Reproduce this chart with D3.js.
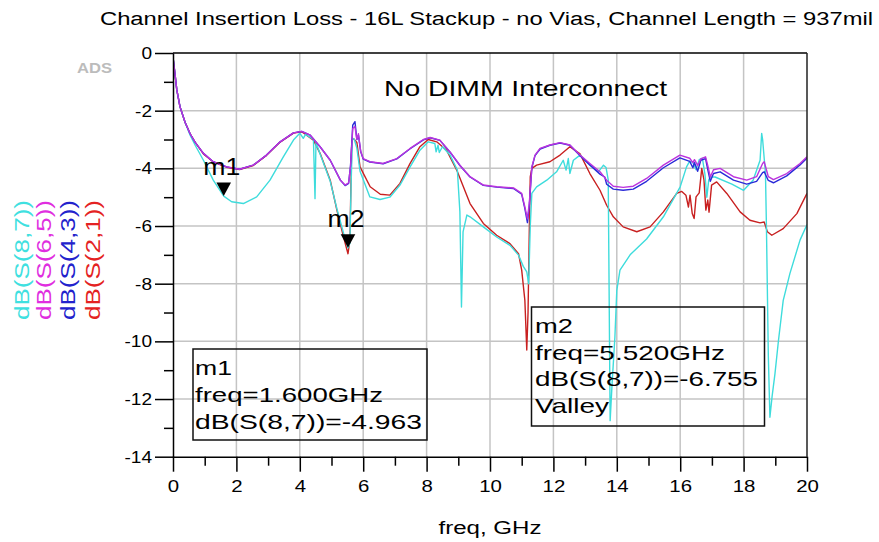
<!DOCTYPE html>
<html>
<head>
<meta charset="utf-8">
<script src="https://cdn.jsdelivr.net/npm/d3@7"></script>
<style>
  body { margin: 0; background: #fff; }
  text { font-family: "Liberation Sans", Arial, sans-serif; }
</style>
</head>
<body>
<script>
// freq (GHz), dB pairs
const s87 = [[0,0],[0.01,-0.24],[0.06,-0.7],[0.12,-1.28],[0.22,-1.86],[0.38,-2.4],[0.54,-2.85],[0.7,-3.2],[0.96,-3.72],[1.27,-4.41],[1.6,-4.963],[1.85,-5.16],[2.22,-5.22],[2.64,-4.99],[3.06,-4.41],[3.48,-3.6],[3.8,-3.02],[4.0,-2.78],[4.11,-2.96],[4.18,-2.82],[4.43,-3.0],[4.48,-5.05],[4.51,-3.1],[4.64,-3.5],[4.96,-4.45],[5.17,-5.4],[5.38,-6.25],[5.52,-6.755],[5.58,-6.6],[5.62,-4.5],[5.66,-2.95],[5.72,-3.0],[5.8,-3.3],[5.9,-4.1],[6.21,-4.99],[6.53,-5.08],[6.84,-5.0],[7.16,-4.58],[7.48,-3.95],[7.79,-3.37],[8.05,-3.08],[8.26,-3.14],[8.3,-3.43],[8.36,-3.2],[8.4,-3.45],[8.5,-3.25],[8.74,-3.54],[8.97,-4.06],[9.05,-5.5],[9.1,-8.81],[9.15,-6.2],[9.27,-5.62],[9.37,-5.68],[9.79,-6.03],[10.21,-6.38],[10.63,-6.67],[10.9,-7.01],[11.05,-7.4],[11.16,-7.59],[11.22,-8.0],[11.27,-6.0],[11.32,-4.87],[11.47,-4.64],[11.79,-4.41],[12.1,-4.12],[12.31,-3.72],[12.4,-4.06],[12.47,-3.66],[12.52,-4.18],[12.63,-3.72],[12.84,-3.54],[13.15,-3.89],[13.42,-4.12],[13.58,-3.89],[13.66,-3.97],[13.73,-4.41],[13.79,-12.75],[13.85,-11.5],[13.94,-9.85],[14.0,-8.23],[14.1,-7.53],[14.42,-7.0],[14.94,-6.45],[15.47,-5.68],[16.0,-4.64],[16.2,-3.95],[16.3,-3.75],[16.4,-3.8],[16.5,-4.05],[16.6,-3.7],[16.7,-3.65],[16.78,-4.2],[16.84,-5.0],[16.9,-4.4],[16.95,-4.3],[17.1,-4.3],[17.63,-4.55],[18.0,-4.76],[18.3,-4.41],[18.52,-3.72],[18.57,-2.79],[18.6,-3.0],[18.69,-4.18],[18.72,-6.0],[18.78,-10.5],[18.83,-12.63],[18.9,-11.9],[18.99,-11.12],[19.1,-9.97],[19.25,-8.58],[19.46,-7.65],[19.78,-6.49],[20,-5.95]];

const s65 = [[0,0],[0.01,-0.24],[0.06,-0.7],[0.12,-1.28],[0.22,-1.86],[0.38,-2.4],[0.54,-2.8],[0.7,-3.1],[0.96,-3.48],[1.27,-3.77],[1.69,-3.95],[2.1,-4.03],[2.53,-3.89],[2.95,-3.54],[3.38,-3.08],[3.8,-2.77],[4.06,-2.72],[4.33,-2.85],[4.64,-3.25],[4.96,-3.72],[5.28,-4.41],[5.43,-4.58],[5.54,-4.5],[5.6,-3.95],[5.67,-2.62],[5.74,-2.55],[5.8,-3.0],[5.85,-2.8],[5.92,-3.4],[6.0,-3.66],[6.21,-3.77],[6.63,-3.83],[7.06,-3.66],[7.48,-3.31],[7.9,-3.0],[8.11,-2.93],[8.42,-3.02],[8.74,-3.43],[9.05,-3.89],[9.37,-4.29],[9.79,-4.58],[10.21,-4.64],[10.74,-4.68],[11.0,-4.87],[11.1,-5.34],[11.18,-5.75],[11.24,-5.2],[11.32,-3.95],[11.42,-3.54],[11.58,-3.31],[11.89,-3.19],[12.21,-3.11],[12.52,-3.19],[12.84,-3.54],[13.15,-3.83],[13.47,-4.12],[13.68,-4.41],[13.89,-4.62],[14.2,-4.66],[14.52,-4.62],[14.94,-4.35],[15.47,-3.89],[15.99,-3.54],[16.3,-3.65],[16.4,-3.8],[16.45,-3.7],[16.55,-3.9],[16.65,-3.67],[16.8,-3.6],[16.88,-3.95],[16.95,-4.3],[17.05,-4.05],[17.26,-4.0],[17.68,-4.29],[18.1,-4.41],[18.41,-4.29],[18.6,-3.83],[18.65,-3.77],[18.78,-4.29],[18.94,-4.39],[19.36,-4.18],[19.78,-3.83],[20,-3.6]];

const s43 = [[0,0],[0.01,-0.24],[0.06,-0.7],[0.12,-1.28],[0.22,-1.86],[0.38,-2.4],[0.54,-2.8],[0.7,-3.1],[0.96,-3.48],[1.27,-3.77],[1.69,-3.95],[2.1,-4.03],[2.53,-3.89],[2.95,-3.54],[3.38,-3.08],[3.8,-2.77],[4.06,-2.72],[4.33,-2.85],[4.64,-3.25],[4.96,-3.72],[5.28,-4.41],[5.43,-4.6],[5.54,-4.52],[5.6,-3.9],[5.67,-2.5],[5.74,-2.38],[5.8,-3.0],[5.85,-2.85],[5.92,-3.42],[6.0,-3.68],[6.21,-3.78],[6.63,-3.84],[7.06,-3.67],[7.48,-3.32],[7.9,-3.01],[8.11,-2.94],[8.42,-3.03],[8.74,-3.44],[9.05,-3.9],[9.37,-4.3],[9.79,-4.59],[10.21,-4.65],[10.74,-4.7],[11.0,-4.9],[11.1,-5.4],[11.18,-5.88],[11.24,-5.3],[11.32,-3.98],[11.42,-3.56],[11.58,-3.33],[11.89,-3.2],[12.21,-3.12],[12.52,-3.2],[12.84,-3.56],[13.15,-3.88],[13.47,-4.2],[13.62,-4.3],[13.68,-4.55],[13.89,-4.72],[14.2,-4.76],[14.52,-4.72],[14.94,-4.45],[15.47,-3.98],[15.99,-3.64],[16.3,-3.76],[16.4,-3.98],[16.45,-3.8],[16.55,-4.1],[16.65,-3.72],[16.8,-3.66],[16.88,-4.1],[16.95,-4.45],[17.05,-4.18],[17.26,-4.12],[17.68,-4.41],[18.1,-4.55],[18.41,-4.45],[18.6,-4.15],[18.65,-4.12],[18.78,-4.42],[18.94,-4.5],[19.36,-4.26],[19.78,-3.88],[20,-3.64]];

const s21 = [[0,0],[0.01,-0.24],[0.06,-0.7],[0.12,-1.28],[0.22,-1.86],[0.38,-2.4],[0.54,-2.8],[0.7,-3.1],[0.96,-3.5],[1.27,-3.78],[1.69,-3.96],[2.1,-4.04],[2.53,-3.9],[2.95,-3.55],[3.38,-3.09],[3.8,-2.78],[4.06,-2.73],[4.43,-3.02],[4.64,-3.48],[4.96,-4.41],[5.17,-5.45],[5.38,-6.38],[5.52,-6.96],[5.58,-6.5],[5.64,-3.02],[5.7,-2.97],[5.8,-3.1],[5.9,-3.95],[6.22,-4.64],[6.54,-4.9],[6.84,-4.93],[7.16,-4.52],[7.48,-3.83],[7.79,-3.25],[8.05,-3.0],[8.32,-3.08],[8.63,-3.37],[8.95,-4.06],[9.37,-5.22],[9.79,-5.91],[10.21,-6.32],[10.63,-6.61],[10.9,-6.96],[11.0,-7.53],[11.1,-8.58],[11.16,-10.3],[11.2,-9.0],[11.24,-6.15],[11.27,-4.3],[11.32,-4.0],[11.47,-3.89],[11.89,-3.77],[12.21,-3.54],[12.52,-3.25],[12.84,-3.5],[13.15,-4.18],[13.47,-4.76],[13.68,-5.28],[13.89,-5.68],[14.2,-6.03],[14.63,-6.2],[15.05,-6.03],[15.47,-5.51],[15.89,-4.87],[16.05,-4.8],[16.18,-4.93],[16.26,-5.34],[16.31,-4.93],[16.38,-5.57],[16.44,-5.74],[16.5,-4.99],[16.6,-4.85],[16.68,-4.0],[16.75,-4.4],[16.81,-5.45],[16.87,-5.1],[16.91,-5.52],[16.99,-4.58],[17.15,-4.47],[17.47,-4.87],[17.89,-5.51],[18.2,-5.8],[18.52,-5.89],[18.65,-5.86],[18.75,-6.2],[18.89,-6.32],[19.25,-6.09],[19.68,-5.57],[20,-4.87]];

const seriesNames = ['dB(S(8,7))', 'dB(S(6,5))', 'dB(S(4,3))', 'dB(S(2,1))'];
const xTicks = [0, 2, 4, 6, 8, 10, 12, 14, 16, 18, 20];
const yTicks = [0, -2, -4, -6, -8, -10, -12, -14];
const markers = [
  {name: 'm1', freq: 1.6, val: -4.963, extra: null},
  {name: 'm2', freq: 5.52, val: -6.755, extra: 'Valley'}
];

const width = 879, height = 542;
const svg = d3.select('body').append('svg')
  .attr('width', width)
  .attr('height', height);

const x = d3.scaleLinear().domain([0, 20]).range([173, 807]);
const y = d3.scaleLinear().domain([-14, 0]).range([456.7, 53]);

const stretch = (sel, k) => sel.each(function () {
  const w = this.getComputedTextLength();
  d3.select(this).attr('textLength', w * k).attr('lengthAdjust', 'spacingAndGlyphs');
});

// 网格
svg.append('g')
  .selectAll('line')
  .data(xTicks.slice(1, -1))
  .join('line')
  .attr('x1', d => x(d)).attr('x2', d => x(d))
  .attr('y1', y(0)).attr('y2', y(-14))
  .attr('stroke', '#c4c4c4').attr('stroke-width', 1.5);

svg.append('g')
  .selectAll('line')
  .data(yTicks.slice(1, -1))
  .join('line')
  .attr('x1', x(0)).attr('x2', x(20))
  .attr('y1', d => y(d)).attr('y2', d => y(d))
  .attr('stroke', '#c4c4c4').attr('stroke-width', 1.5);

// 曲线
const line = d3.line().x(d => x(d[0])).y(d => y(d[1]));
svg.append('clipPath').attr('id', 'clip')
  .append('rect').attr('x', x(0)).attr('y', y(0) - 2)
  .attr('width', x(20) - x(0)).attr('height', y(-14) - y(0) + 2);

const curves = [
  {data: s21, color: '#c82020'},
  {data: s87, color: '#3edcdc'},
  {data: s43, color: '#2a2ad8'},
  {data: s65, color: '#bb33dd'}
];
svg.append('g').attr('clip-path', 'url(#clip)')
  .selectAll('path')
  .data(curves)
  .join('path')
  .attr('d', d => line(d.data))
  .attr('fill', 'none')
  .attr('stroke', d => d.color)
  .attr('stroke-width', 1.4)
  .attr('stroke-linejoin', 'round');

// 边框
svg.append('line')
  .attr('x1', x(0)).attr('x2', x(20)).attr('y1', y(0)).attr('y2', y(0))
  .attr('stroke', '#000').attr('stroke-width', 1.5);
svg.append('line')
  .attr('x1', x(20)).attr('x2', x(20)).attr('y1', y(0)).attr('y2', y(-14))
  .attr('stroke', '#222').attr('stroke-width', 1.5);

// 坐标轴
const yAxis = svg.append('g')
  .attr('transform', `translate(${x(0)},0)`)
  .call(d3.axisLeft(y).tickValues(yTicks).tickSize(18).tickSizeOuter(0).tickPadding(3)
          .tickFormat(d => String(d)))
  .attr('font-size', 17).attr('font-family', '"Liberation Sans", Arial, sans-serif');
yAxis.selectAll('line, path').attr('stroke', '#000').attr('stroke-width', 1.5);
stretch(yAxis.selectAll('text'), 1.12);

svg.append('g')
  .attr('transform', `translate(${x(0)},0)`)
  .call(d3.axisLeft(y).tickValues([-1, -3, -5, -7, -9, -11, -13]).tickSize(9).tickFormat(''))
  .call(g => g.select('.domain').remove())
  .selectAll('line').attr('stroke', '#000').attr('stroke-width', 1.5);

const xAxis = svg.append('g')
  .attr('transform', `translate(0,${y(-14)})`)
  .call(d3.axisBottom(x).tickValues(xTicks).tickSize(15).tickSizeOuter(0).tickPadding(8)
          .tickFormat(d => String(d)))
  .attr('font-size', 17).attr('font-family', '"Liberation Sans", Arial, sans-serif');
xAxis.selectAll('line, path').attr('stroke', '#000').attr('stroke-width', 1.5);
stretch(xAxis.selectAll('text'), 1.2);

svg.append('g')
  .attr('transform', `translate(0,${y(-14)})`)
  .call(d3.axisBottom(x).tickValues([1, 3, 5, 7, 9, 11, 13, 15, 17, 19]).tickSize(9).tickFormat(''))
  .call(g => g.select('.domain').remove())
  .selectAll('line').attr('stroke', '#000').attr('stroke-width', 1.5);

// 文字
svg.append('text')
  .attr('x', 486.5).attr('y', 25)
  .attr('text-anchor', 'middle').attr('font-size', 18)
  .attr('textLength', 773).attr('lengthAdjust', 'spacingAndGlyphs')
  .text('Channel Insertion Loss - 16L Stackup - no Vias, Channel Length = 937mil');

svg.append('text')
  .attr('x', 77).attr('y', 73)
  .attr('font-size', 15).attr('font-weight', 'bold').attr('fill', '#bcbcbc')
  .attr('textLength', 35).attr('lengthAdjust', 'spacingAndGlyphs')
  .text('ADS');

svg.append('text')
  .attr('x', 525.5).attr('y', 96)
  .attr('text-anchor', 'middle').attr('font-size', 22)
  .attr('textLength', 283).attr('lengthAdjust', 'spacingAndGlyphs')
  .text('No DIMM Interconnect');

svg.append('text')
  .attr('x', x(10)).attr('y', 534)
  .attr('text-anchor', 'middle').attr('font-size', 18)
  .attr('textLength', 103).attr('lengthAdjust', 'spacingAndGlyphs')
  .text('freq, GHz');

// 图例 (竖排)
const legendColors = ['#3fe0e0', '#e02ee0', '#2222cc', '#e42222'];
const legendX = [22, 44, 67.5, 92.5];
svg.append('g')
  .selectAll('text')
  .data(seriesNames)
  .join('text')
  .attr('transform', (d, i) => `translate(${legendX[i]},260) rotate(-90)`)
  .attr('text-anchor', 'middle').attr('dy', '0.35em')
  .attr('font-size', 20)
  .attr('fill', (d, i) => legendColors[i])
  .attr('textLength', 120).attr('lengthAdjust', 'spacingAndGlyphs')
  .text(d => d);

// 标记
const mk = svg.append('g');
markers.forEach(m => {
  const px = x(m.freq), py = y(m.val);
  mk.append('path')
    .attr('d', `M${px - 7.3},${py - 13.5}L${px + 7.3},${py - 13.5}L${px},${py}Z`)
    .attr('fill', '#000');
  mk.append('text')
    .attr('x', px - 2).attr('y', py - 21)
    .attr('text-anchor', 'middle').attr('font-size', 24)
    .attr('textLength', 37).attr('lengthAdjust', 'spacingAndGlyphs')
    .text(m.name);
});

const boxes = [
  {m: markers[0], x: 193, y: 349, w: 234, h: 91, tx: 195, base: 375, step: 27, widths: [37, 188, 227]},
  {m: markers[1], x: 531.5, y: 307, w: 233, h: 119, tx: 535, base: 333, step: 26.7, widths: [38, 190, 223, 74]}
];
boxes.forEach(b => {
  const g = svg.append('g');
  g.append('rect')
    .attr('x', b.x).attr('y', b.y).attr('width', b.w).attr('height', b.h)
    .attr('fill', 'none').attr('stroke', '#111').attr('stroke-width', 1.5);
  const lines = [b.m.name, `freq=${b.m.freq.toFixed(3)}GHz`, `dB(S(8,7))=${b.m.val.toFixed(3)}`];
  if (b.m.extra) lines.push(b.m.extra);
  lines.forEach((t, i) => {
    g.append('text')
      .attr('x', b.tx).attr('y', b.base + i * b.step)
      .attr('font-size', 21)
      .attr('textLength', b.widths[i]).attr('lengthAdjust', 'spacingAndGlyphs')
      .text(t);
  });
});
</script>
</body>
</html>
